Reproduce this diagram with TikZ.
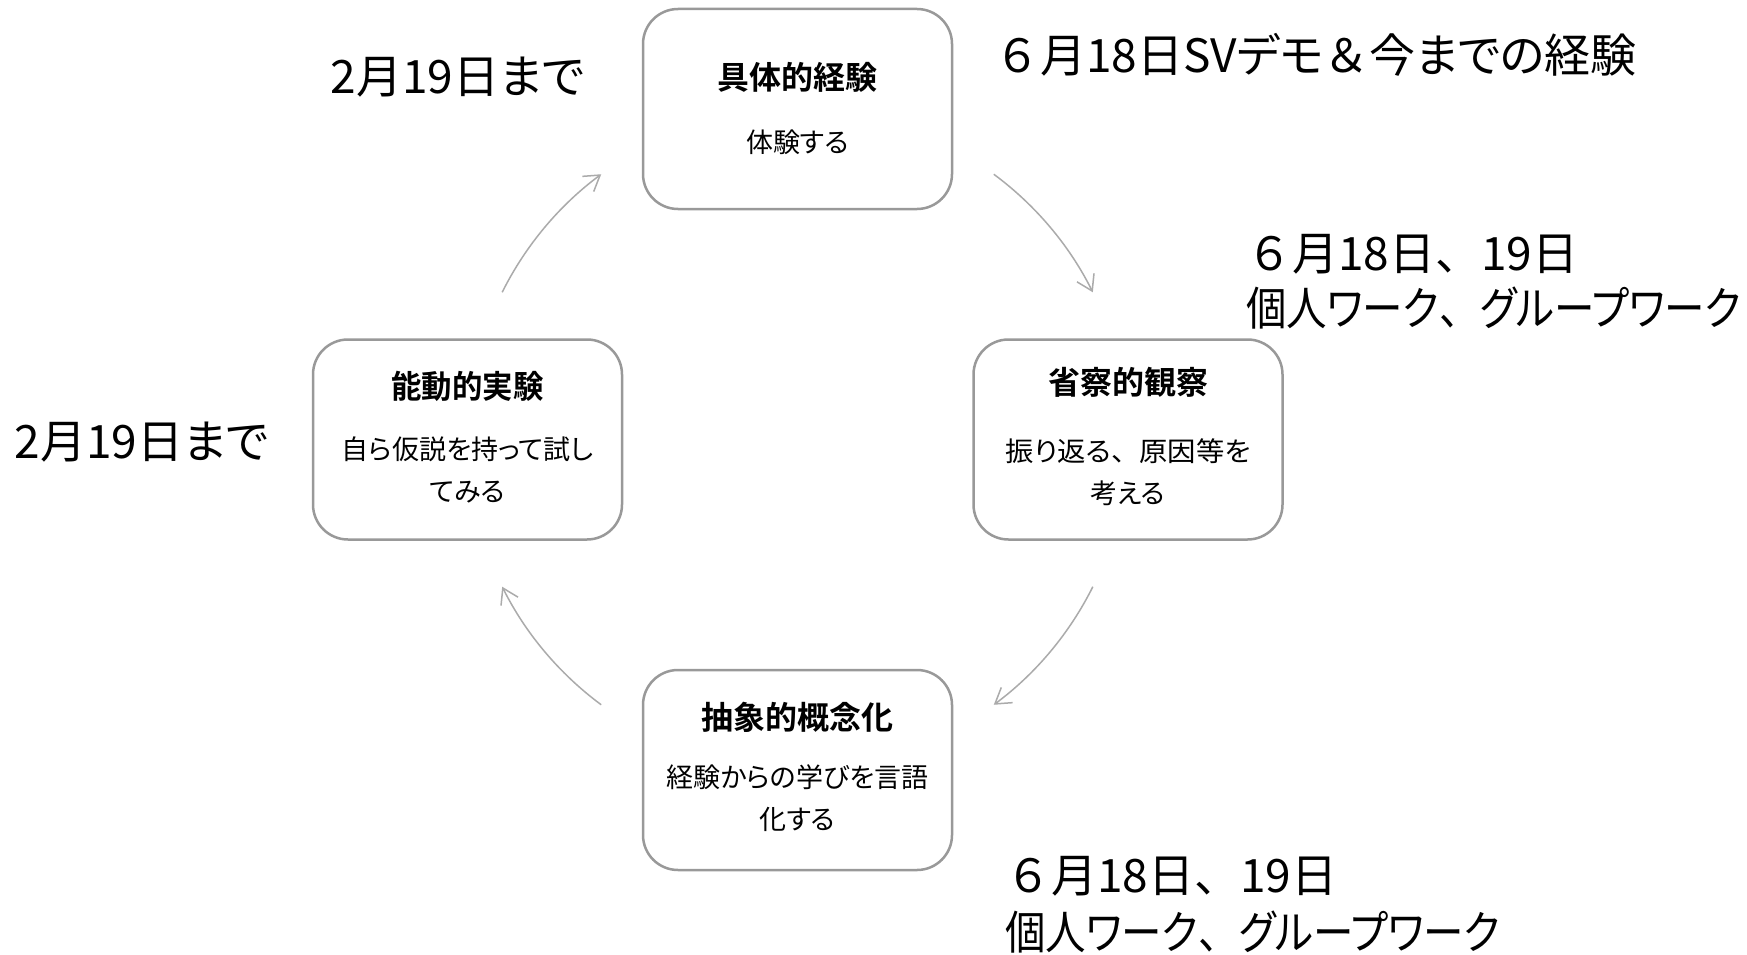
\documentclass[tikz,border=0pt]{standalone}
\usepackage{fontspec}
\usepackage{graphicx}
\setmainfont{Noto Sans CJK JP}[RawFeature=+palt, BoldFont={Noto Sans CJK JP Bold}]
\newfontfamily\fw{Noto Sans CJK JP}
\newcommand{\hsc}[2]{\scalebox{#1}[1]{#2}}
\usetikzlibrary{arrows.meta}
\definecolor{boxgray}{HTML}{999999}
\definecolor{arrgray}{HTML}{ABABAB}
\begin{document}
\begin{tikzpicture}[x=1pt,y=1pt,
  stage/.style={draw=boxgray, line width=2.5pt, rounded corners=35pt, minimum width=309pt, minimum height=200pt, inner sep=0pt, fill=white},
  ttl/.style={font=\fontsize{32}{38}\selectfont\bfseries, inner sep=0pt},
  sub/.style={font=\fontsize{27}{42}\selectfont, align=center, inner sep=0pt},
  note/.style={font=\fontsize{46}{55}\selectfont, inner sep=0pt},
  cyc/.style={draw=arrgray, line width=1.5pt, -{Straight Barb[length=15pt,width=19pt]}}
]
\fill[white] (0,0) rectangle (1747,-955);
\useasboundingbox (0,0) rectangle (1747,-955);

% stages
\node[stage] (ce) at (797.5,-109) {};
\node[stage] (ae) at (467.5,-439.5) {};
\node[stage] (ro) at (1128,-439.5) {};
\node[stage] (ac) at (797.5,-770) {};

\node[ttl] (ceT) at ([yshift=32]ce.center) {具体的経験};
\node[sub] (ceS) at ([yshift=-33]ce.center) {体験する};

\node[ttl] (aeT) at ([yshift=53]ae.center) {\hsc{0.95}{能動的実験}};
\node[sub] (aeS) at ([yshift=-30.5]ae.center) {自ら仮説を持って試し\\てみる};

\node[ttl] (roT) at ([yshift=57.5]ro.center) {省察的観察};
\node[sub] (roS) at ([yshift=-32.5]ro.center) {\hsc{1.05}{振り返る{\fw 、}原因等を}\\考える};

\node[ttl] (acT) at ([yshift=53]ac.center) {抽象的概念化};
\node[sub] (acS) at ([yshift=-28]ac.center) {経験からの学びを言語\\化する};

% cycle arrows
\coordinate (hub) at (ce.center |- ae.center);
\draw[cyc] ([shift={(53.5:330)}]hub) arc[start angle=53.5, end angle=26.5, radius=330];
\draw[cyc] ([shift={(-26.5:330)}]hub) arc[start angle=-26.5, end angle=-53.5, radius=330];
\draw[cyc] ([shift={(233.5:330)}]hub) arc[start angle=233.5, end angle=206.5, radius=330];
\draw[cyc] ([shift={(153.5:330)}]hub) arc[start angle=153.5, end angle=126.5, radius=330];

% notes
\node[note] (n1) at (457.5,-77) {2月19日まで};
\node[note] (n2) at (141.5,-442) {2月19日まで};
\node[note] (n3) at (1315.5,-55) {{\fw ６}月18日SVデモ{\fw ＆}今までの経験};
\node[note, align=left, anchor=west] (n4) at (1246,-281.5) {{\fw ６}月18日{\fw 、}19日\\\hsc{0.88}{個人ワーク{\fw 、}グループワーク}};
\node[note, align=left, anchor=west] (n5) at (1005,-905) {{\fw ６}月18日{\fw 、}19日\\[2pt]\hsc{0.88}{個人ワーク{\fw 、}グループワーク}};
\end{tikzpicture}
\end{document}
